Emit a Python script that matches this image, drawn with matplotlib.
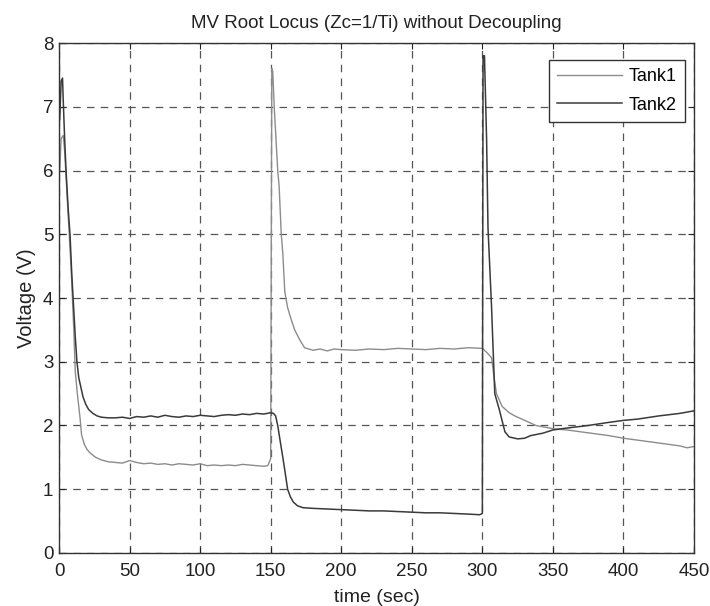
import matplotlib
matplotlib.use("Agg")
import matplotlib.pyplot as plt

plt.rcParams['font.family'] = ['Liberation Sans', 'DejaVu Sans']

# Tank1 voltage (time in seconds, value in volts)
t_tank1 = [0.5, 1.5, 3, 4, 5, 6, 7.5, 8.5, 9.5, 10.5, 11.5, 13, 15, 16, 18, 20, 22, 26, 30,
           35, 40, 45, 50, 55, 60, 65, 70, 75, 80, 85, 90, 95, 100, 105, 110, 115, 120,
           125, 130, 135, 140, 145, 148, 150, 150.8, 151.5, 152.5, 153.5, 155, 156, 157.5,
           158.6, 160, 162, 164, 167, 170.7, 174, 180, 185, 190, 195, 200, 210, 220, 230,
           240, 250, 260, 270, 280, 290, 300, 303, 306.6, 308, 310, 314, 319, 323, 328,
           338, 350, 360, 370, 380, 390, 400, 410, 420, 430, 440, 445, 450]
v_tank1 = [6.0, 6.5, 6.55, 6.3, 5.9, 5.5, 4.9, 4.5, 4.0, 3.5, 2.85, 2.5, 2.1, 1.85, 1.7, 1.62,
           1.57, 1.5, 1.46, 1.43, 1.42, 1.41, 1.45, 1.42, 1.4, 1.41, 1.39, 1.4, 1.38, 1.4,
           1.39, 1.38, 1.4, 1.37, 1.38, 1.37, 1.38, 1.37, 1.39, 1.38, 1.37, 1.36, 1.37, 1.48,
           7.6, 7.55, 7.0, 6.6, 6.0, 5.75, 5.0, 4.7, 4.1, 3.85, 3.7, 3.5, 3.34, 3.22, 3.18,
           3.2, 3.17, 3.2, 3.19, 3.18, 3.2, 3.19, 3.21, 3.2, 3.19, 3.21, 3.2, 3.22, 3.21,
           3.15, 3.06, 2.8, 2.5, 2.3, 2.2, 2.15, 2.1, 2.0, 1.95, 1.93, 1.9, 1.87, 1.84, 1.8,
           1.77, 1.74, 1.71, 1.68, 1.65, 1.67]

# Tank2 voltage (time in seconds, value in volts)
t_tank2 = [0.5, 1.5, 2.5, 3, 4, 5, 6.5, 7.8, 9, 10, 11.5, 12.7, 14, 15.5, 17, 19, 21, 24, 27,
           30, 35, 40, 45, 50, 55, 60, 65, 70, 75, 80, 85, 90, 95, 100, 105, 110, 115, 120,
           125, 130, 135, 140, 145, 150, 152, 153.5, 155, 157, 158.6, 160, 162, 164, 166,
           169, 173, 180, 190, 200, 210, 220, 230, 240, 250, 260, 270, 280, 290, 298, 300,
           300.5, 301.5, 303, 304, 306.5, 308.8, 312, 316, 319, 325, 330, 334, 343, 350,
           360, 375, 390, 400, 410, 425, 440, 450]
v_tank2 = [6.8, 7.4, 7.45, 7.1, 6.5, 6.0, 5.4, 5.0, 4.4, 4.0, 3.4, 3.0, 2.75, 2.6, 2.45, 2.33,
           2.25, 2.19, 2.15, 2.13, 2.12, 2.12, 2.13, 2.11, 2.14, 2.13, 2.15, 2.13, 2.16, 2.14,
           2.13, 2.15, 2.14, 2.16, 2.15, 2.14, 2.16, 2.17, 2.16, 2.18, 2.17, 2.19, 2.18, 2.2,
           2.19, 2.15, 2.0, 1.72, 1.5, 1.3, 1.0, 0.88, 0.8, 0.74, 0.71, 0.7, 0.69, 0.68, 0.67,
           0.66, 0.66, 0.65, 0.64, 0.63, 0.63, 0.62, 0.61, 0.6, 0.62, 7.8, 7.8, 6.5, 5.1,
           3.87, 2.5, 2.25, 1.9, 1.82, 1.79, 1.8, 1.84, 1.88, 1.93, 1.96, 2.0, 2.05, 2.08,
           2.1, 2.15, 2.19, 2.23]

x_ticks = [0, 50, 100, 150, 200, 250, 300, 350, 400, 450]
y_ticks = [0, 1, 2, 3, 4, 5, 6, 7, 8]

fig = plt.figure(figsize=(7.10, 6.06), dpi=100)
ax = fig.add_axes([0.0831, 0.0875, 0.8944, 0.8415])

ax.plot(t_tank1, v_tank1, color='#8c8c8c', lw=1.0, label='Tank1')
ax.plot(t_tank2, v_tank2, color='#3a3a3a', lw=1.1, label='Tank2')

ax.set_xlim(0, 450)
ax.set_ylim(0, 8)
ax.set_xticks(x_ticks)
ax.set_yticks(y_ticks)
ax.tick_params(direction='in', length=4, top=True, right=True,
               labelsize=13.5, colors='#222222')
ax.tick_params(axis='x', pad=7)
ax.tick_params(axis='y', pad=4)
for s in ax.spines.values():
    s.set_color('#333333')
    s.set_linewidth(1.0)

ax.grid(True, color='#555555', lw=0.9, linestyle=(0, (6, 5)))
ax.set_axisbelow(True)

ax.set_title('MV Root Locus (Zc=1/Ti) without Decoupling', fontsize=13.5,
             color='#222222', pad=11)
ax.set_xlabel('time (sec)', fontsize=14, color='#222222', labelpad=7)
ax.set_ylabel('Voltage (V)', fontsize=14.5, color='#222222', labelpad=5)

leg = ax.legend(loc='upper right', bbox_to_anchor=(0.986, 0.967), borderaxespad=0,
                fontsize=13, handlelength=3.6, handletextpad=0.4, labelspacing=0.65,
                borderpad=0.45, fancybox=False, framealpha=1)
leg.get_frame().set_edgecolor('#333333')
leg.get_frame().set_linewidth(1.0)

fig.savefig('out.png', dpi=100)
